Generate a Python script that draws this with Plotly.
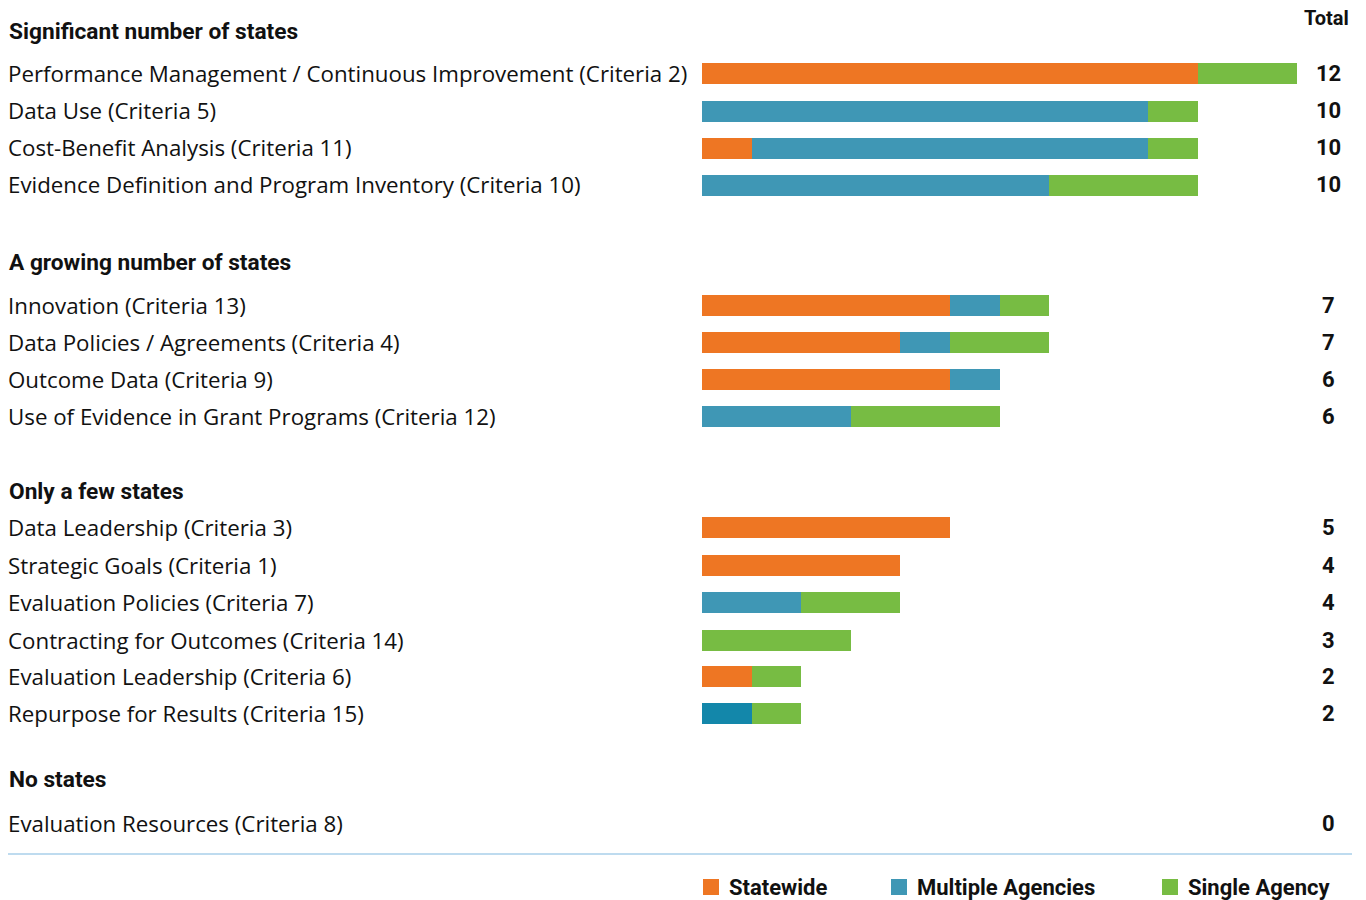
import plotly.graph_objects as go

# ---- data ----
groups = ["Significant number of states", "A growing number of states", "Only a few states", "No states"]
categories = [
    "Performance Management / Continuous Improvement (Criteria 2)",
    "Data Use (Criteria 5)",
    "Cost-Benefit Analysis (Criteria 11)",
    "Evidence Definition and Program Inventory (Criteria 10)",
    "Innovation (Criteria 13)",
    "Data Policies / Agreements (Criteria 4)",
    "Outcome Data (Criteria 9)",
    "Use of Evidence in Grant Programs (Criteria 12)",
    "Data Leadership (Criteria 3)",
    "Strategic Goals (Criteria 1)",
    "Evaluation Policies (Criteria 7)",
    "Contracting for Outcomes (Criteria 14)",
    "Evaluation Leadership (Criteria 6)",
    "Repurpose for Results (Criteria 15)",
    "Evaluation Resources (Criteria 8)",
]
category_group = [0, 0, 0, 0, 1, 1, 1, 1, 2, 2, 2, 2, 2, 2, 3]
statewide = [10, 0, 1, 0, 5, 4, 5, 0, 5, 4, 0, 0, 1, 0, 0]
multiple_agencies = [0, 9, 8, 7, 1, 1, 1, 3, 0, 0, 2, 0, 0, 1, 0]
single_agency = [2, 1, 1, 3, 1, 2, 0, 3, 0, 0, 2, 3, 1, 1, 0]
series_names = ["Statewide", "Multiple Agencies", "Single Agency"]

# ---- layout constants (pixels) ----
W, H = 1366, 900
BAR_X0 = 702
UNIT = 49.6
row_y = [73, 111, 148, 185, 305, 342, 379, 416, 527, 565, 602, 640, 676, 713, 823]
group_y = [31, 262, 492, 779]

ORANGE = "#EE7623"
BLUE = "#3F97B5"
BLUE_DARK = "#1387AA"
GREEN = "#77BC43"
REG_FONT = "Open Sans, Noto Sans, Arial, sans-serif"
BOLD_FONT = "Roboto, Arial, sans-serif"

blue_colors = [BLUE] * len(categories)
blue_colors[categories.index("Repurpose for Results (Criteria 15)")] = BLUE_DARK

fig = go.Figure()
for name, vals, col in [
    (series_names[0], statewide, ORANGE),
    (series_names[1], multiple_agencies, blue_colors),
    (series_names[2], single_agency, GREEN),
]:
    fig.add_trace(go.Bar(
        x=vals, y=row_y, orientation="h", name=name,
        marker=dict(color=col, line=dict(width=0)),
        width=21, showlegend=False, hoverinfo="x+name",
    ))

def px(x):
    return x / W

def py(y):
    return 1 - y / H

ann = []
for g, y in zip(groups, group_y):
    ann.append(dict(x=px(7), y=py(y), text="<b>" + g + "</b>", xanchor="left", yanchor="middle",
                    font=dict(family=BOLD_FONT, size=22.7, color="#111")))
for c, y in zip(categories, row_y):
    ann.append(dict(x=px(6), y=py(y), text=c, xanchor="left", yanchor="middle",
                    font=dict(family=REG_FONT, size=22.3, color="#111")))
for s, m, si, y in zip(statewide, multiple_agencies, single_agency, row_y):
    ann.append(dict(x=px(1328), y=py(y), text="<b>%d</b>" % (s + m + si), xanchor="center", yanchor="middle",
                    font=dict(family=BOLD_FONT, size=22, color="#111")))
ann.append(dict(x=px(1351), y=py(18), text="<b>Total</b>", xanchor="right", yanchor="middle",
                font=dict(family=BOLD_FONT, size=20, color="#111")))

shapes = [dict(type="line", xref="paper", yref="paper", x0=px(8), x1=px(1352), y0=py(854), y1=py(854),
               line=dict(color="#A9CFEA", width=1.5))]
legend_items = [(703, ORANGE, series_names[0]), (891, BLUE, series_names[1]), (1162, GREEN, series_names[2])]
for x, col, name in legend_items:
    shapes.append(dict(type="rect", xref="paper", yref="paper", x0=px(x), x1=px(x + 16),
                       y0=py(879), y1=py(895), fillcolor=col, line=dict(width=0)))
    ann.append(dict(x=px(x + 24), y=py(887), text="<b>" + name + "</b>", xanchor="left", yanchor="middle",
                    font=dict(family=BOLD_FONT, size=22, color="#111")))

for a in ann:
    a.update(xref="paper", yref="paper", showarrow=False)

fig.update_layout(
    width=W, height=H, barmode="stack", bargap=0,
    margin=dict(l=0, r=0, t=0, b=0),
    paper_bgcolor="white", plot_bgcolor="white",
    xaxis=dict(range=[-BAR_X0 / UNIT, (W - BAR_X0) / UNIT], visible=False, fixedrange=True),
    yaxis=dict(range=[H, 0], visible=False, fixedrange=True),
    annotations=ann, shapes=shapes,
)

fig.write_html(
    "out.html",
    config={"displayModeBar": False},
    post_script="document.body.style.margin='0';document.body.style.overflow='hidden';",
)
